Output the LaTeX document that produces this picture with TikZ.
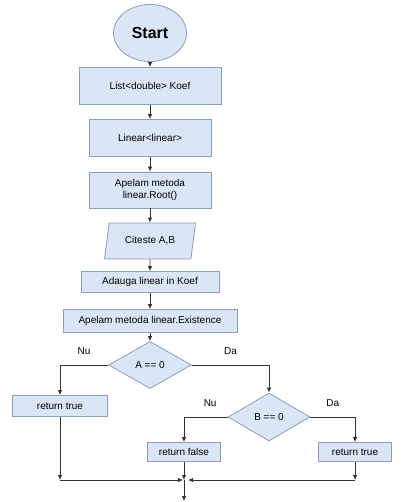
\documentclass[tikz,border=0pt]{standalone}
\usepackage{fontspec}
\setmainfont{Liberation Sans}
\usetikzlibrary{shapes,arrows.meta}
\usetikzlibrary{positioning,calc}

\definecolor{boxfill}{HTML}{DAE5F6}
\definecolor{boxline}{HTML}{8C9CBE}
\definecolor{wire}{HTML}{333333}

\begin{document}
\begin{tikzpicture}[auto, align=center, on grid, node distance=52pt, >={Latex[length=5pt,width=4.5pt]}, font=\fontsize{10}{12}\selectfont]

%local definitions
\tikzstyle{Terminal} = [draw=boxline, fill=boxfill, ellipse, line width=0.8pt, minimum width=73pt, minimum height=57pt, font=\fontsize{16}{18}\selectfont\bfseries]
\tikzstyle{Process} = [draw=boxline, fill=boxfill, rectangle, line width=0.8pt, minimum height=21pt]
\tikzstyle{InOut} = [draw=boxline, fill=boxfill, trapezium, trapezium left angle=73, trapezium right angle=107, trapezium stretches body, line width=0.8pt, minimum width=91pt, minimum height=36pt]
\tikzstyle{Decision} = [draw=boxline, fill=boxfill, diamond, aspect=1.8, line width=0.8pt, minimum width=83pt, minimum height=47pt, inner sep=1pt]
\tikzstyle{wireline} = [draw=wire, line width=0.8pt]

\useasboundingbox (0,0) rectangle (407pt,-502pt);

%main loop
	\node [Terminal] (Start) at (150pt,-33pt) {Start};
	\node [Process, below=53pt of Start, minimum width=142pt, minimum height=37pt] (Koef) {List<double> Koef};
	\node [Process, below of=Koef, minimum width=122pt, minimum height=37pt] (Linear) {Linear<linear>};
	\node [Process, below of=Linear, minimum width=122pt, minimum height=36pt] (Root) {Apelam metoda\\linear.Root()};
	\node [InOut, below=51pt of Root] (Read) {Citeste A,B};
	\node [Process, below=41pt of Read, minimum width=138pt] (Add) {Adauga linear in Koef};
	\node [Process, below=39pt of Add, minimum width=174pt, minimum height=23pt] (Exist) {Apelam metoda linear.Existence};
	\node [Decision, below=44pt of Exist] (CondA) {A == 0};
	\node [Process, below left=41pt and 90pt of CondA, minimum width=95pt] (RetA) {return true};
	\node [Decision, below right=52pt and 119pt of CondA, minimum width=82pt, minimum height=48pt] (CondB) {B == 0};
	\node [Process, below left=35pt and 85pt of CondB, minimum width=73pt, minimum height=19pt] (RetFalse) {return false};
	\node [Process, below right=35pt and 86pt of CondB, minimum width=73pt, minimum height=19pt] (RetTrue) {return true};

	\coordinate [below=28pt of RetFalse] (Join);
	\coordinate (CornerL) at (RetA |- Join);
	\coordinate (CornerR) at (RetTrue |- Join);
	\coordinate [below=21pt of Join] (Exit);

%connections
	\draw [wireline,->] (Start) -- (Koef);
	\draw [wireline,->] (Koef) -- (Linear);
	\draw [wireline,->] (Linear) -- (Root);
	\draw [wireline,->] (Root) -- (Read);
	\draw [wireline,->] (Read) -- (Add);
	\draw [wireline,->] (Add) -- (Exist);
	\draw [wireline,->] (Exist) -- (CondA);

	\draw [wireline,->] (CondA.west) -| node[pos=0.25,above=7pt]{Nu} (RetA);
	\draw [wireline,->] (CondA.east) -| node[pos=0.25,above=7pt]{Da} (CondB);
	\draw [wireline,->] (CondB.west) -| node[pos=0.2,above=7pt]{Nu} (RetFalse);
	\draw [wireline,->] (CondB.east) -| node[pos=0.25,above=7pt]{Da} (RetTrue);

	\draw [wireline,->] (RetA) -- (CornerL);
	\draw [wireline,->,shorten >=1pt] (CornerL) -- (Join);
	\draw [wireline,->] (RetFalse) -- (Join);
	\draw [wireline,->] (RetTrue) -- (CornerR);
	\draw [wireline,->,shorten >=4pt] (CornerR) -- (Join);
	\draw [wireline,->] (Join) -- (Exit);

\end{tikzpicture}
\end{document}
